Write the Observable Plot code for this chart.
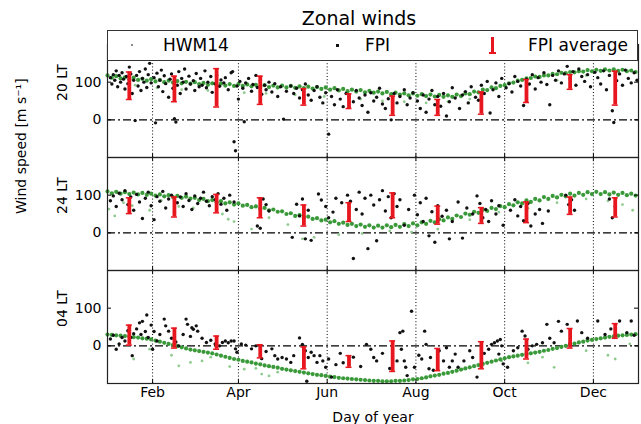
<!DOCTYPE html>
<html><head><meta charset="utf-8">
<script src="https://cdn.jsdelivr.net/npm/d3@7"></script>
<script src="https://cdn.jsdelivr.net/npm/@observablehq/plot@0.6"></script>
<style>
body{margin:0;background:#fff;font-family:"DejaVu Sans",sans-serif;color:#000;}
#wrap{position:relative;width:641px;height:424px;overflow:hidden;}
#wrap svg{position:absolute;left:0;top:0;}
.abs{position:absolute;}
#title{left:0;width:718px;top:8px;text-align:center;font-size:19px;line-height:20px;}
#legend{left:107px;top:30px;width:531px;height:31px;box-sizing:border-box;border:1px solid #333;background:#fff;}
.lt{font-size:17px;line-height:18px;top:36px;}
</style></head><body>
<div id="wrap">
</div>
<script>
// ---- categories / ticks ----
const panels = ["20 LT", "24 LT", "04 LT"];
const monthLabels = ["Feb", "Apr", "Jun", "Aug", "Oct", "Dec"];
const monthDays = [32, 91, 152, 213, 274, 335];

// ---- HWM14 (sampled every 3 days from day 1) ----
const hwmDays = d3.range(1, 366, 3);
const hwm20 = [118,112,116,110,113,108,112,106,109,104,
108,102,106,100,104,99,103,97,101,96,
100,95,98,93,97,92,96,91,95,90,
95,90,94,89,93,88,92,87,91,86,
91,86,90,85,89,84,88,83,87,82,
86,80,84,78,82,76,80,75,79,73,
77,72,75,70,74,68,72,67,70,65,
70,64,68,63,67,62,66,61,65,61,
67,63,70,68,75,73,80,79,86,84,
90,92,97,99,104,106,110,111,115,114,
118,118,122,121,125,124,127,126,129,128,
132,129,133,130,134,131,134,130,133,129,
131,127];
const hwm24 = [110,105,109,104,108,103,107,102,106,101,
104,99,102,97,100,95,98,93,96,91,
93,87,90,84,87,81,84,78,81,75,
78,72,74,68,70,64,66,60,62,56,
57,50,52,45,47,41,43,37,39,33,
35,28,31,24,27,21,24,18,22,16,
20,14,19,14,20,15,21,16,23,18,
25,20,28,24,32,28,36,33,41,37,
46,42,51,48,56,53,61,58,66,63,
71,68,76,73,81,78,86,82,90,86,
95,90,98,94,101,97,104,99,106,101,
108,103,109,103,108,102,107,101,106,100,
104,99];
const hwm04 = [30,29,28,27,26,25,23,22,20,19,
17,14,11,8,5,2,-1,-4,-7,-10,
-12,-14,-16,-18,-20,-23,-26,-29,-32,-35,
-37,-40,-42,-44,-47,-49,-52,-54,-56,-58,
-61,-63,-65,-67,-69,-71,-73,-75,-77,-78,
-80,-82,-83,-85,-86,-87,-88,-89,-90,-91,
-92,-93,-93,-94,-94,-94,-93,-93,-92,-91,
-89,-88,-86,-84,-81,-79,-77,-74,-72,-69,
-66,-63,-60,-57,-54,-51,-48,-45,-42,-39,
-36,-33,-30,-28,-26,-24,-22,-20,-18,-16,
-13,-11,-8,-6,-3,0,3,6,9,11,
14,16,18,20,22,24,25,27,28,29,
30,31];
// scattered (lighter) HWM14 points [day, value]
const hwmExtra20 = [[20,92],[35,85],[52,80],[70,78],[95,72],[110,70],[130,66],[150,62],[175,55],[190,50],[205,48],[220,45],[235,48],[250,55],[290,92],[310,105],[330,118],[350,112]];
const hwmExtra24 = [[2,63],[6,45],[12,80],[18,72],[30,60],[38,86],[50,70],[60,66],[80,50],[84,36],[88,30],[100,10],[112,40],[125,22],[135,-16],[143,-12],[160,-5],[176,-2],[195,5],[210,2],[228,10],[250,35],[270,55],[290,65],[310,80],[330,90],[345,85],[355,75],[362,60]];
const hwmExtra04 = [[19,-35],[30,-9],[45,-25],[50,-53],[58,-44],[66,-40],[72,-30],[85,-55],[95,-62],[103,-60],[107,-75],[112,-80],[118,-70],[245,-62],[258,-48],[272,-40],[290,-45],[300,-30],[308,-57],[330,-13],[345,-25],[350,-35],[360,5]];

// ---- FPI individual nights [day, value] ----
const fpi20 = [[3,112],[4,95],[5,120],[6,105],[7,130],[8,88],[9,118],[10,100],[11,125],[12,108],[13,82],[14,115],[15,96],[16,140],[17,122],[18,70],[19,105],[20,-2],[21,118],[22,90],[23,128],[24,78],[25,110],[26,100],[27,135],[28,86],[29,120],[30,150],[31,98],[33,112],[34,-8],[35,124],[36,88],[37,105],[38,132],[39,75],[40,117],[41,96],[43,60],[44,108],[45,122],[46,84],[47,3],[48,-6],[49,92],[50,128],[51,70],[52,110],[53,100],[54,135],[55,82],
[57,116],[58,95],[60,104],[61,78],[62,123],[64,88],[65,110],[66,92],[68,130],[69,85],[70,100],[72,115],[73,73],[75,96],[76,118],[78,89],[79,106],[81,98],[82,112],[84,80],[86,125],[87,128],[88,-58],[89,-82],[90,90],[91,55],[92,102],[94,84],[95,-5],[96,98],[98,110],[100,76],[101,94],[103,118],[104,86],[106,104],[107,68],[109,92],[110,80],[112,100],[114,74],[116,96],[118,62],[120,88],[122,2],[124,76],[127,90],[129,70],[131,84],[133,58],[135,80],[137,95],[139,66],[141,52],[143,78],[145,88],[147,60],[149,45],[151,72],[153,-38],[155,62],[157,40],[159,80],[161,55],[163,35],[165,70],[167,60],
[170,48],[172,78],[174,58],[176,38],[178,66],[180,20],[182,72],[184,50],[186,60],[188,84],[190,42],[192,30],[194,56],[196,0],[198,70],[200,45],[202,62],[205,80],[207,40],[209,58],[211,72],[214,50],[216,30],[218,66],[220,20],[222,55],[224,78],[226,40],[228,62],[230,36],[232,70],[234,10],[236,48],[238,85],[240,58],[243,30],[245,66],[247,75],[249,45],[251,88],[254,60],[256,52],[258,92],[260,70],[262,102],[264,18],[266,80],[268,98],[270,62],[272,110],[275,85],[277,96],[279,74],[281,115],[283,102],[285,90],[287,38],[289,108],[291,95],[293,120],[295,82],[297,112],[299,100],[301,125],[303,94],[305,40],[307,118],[309,105],[311,130],[313,98],[315,122],[317,142],[319,110],[321,128],[323,92],[325,135],[327,115],[329,102],[331,120],[333,88],[336,126],[338,112],[340,95],[342,130],[344,80],[346,118],[348,24],[349,-7],[351,104],[353,122],[355,92],[357,132],[359,110],[361,98],[363,125],[365,105]];
const fpi24 = [[3,85],[5,98],[7,70],[9,105],[11,88],[13,112],[15,75],[17,95],[19,60],[21,102],[23,82],[25,38],[27,92],[29,108],[31,72],[33,35],[35,96],[37,84],[39,110],[41,66],[43,90],[45,100],[47,55],[49,80],[51,95],[53,70],[55,104],[57,86],[59,62],[61,98],[63,78],[65,92],[67,108],[69,84],[71,72],[73,96],[75,88],[77,104],[79,76],[81,92],[83,60],[85,100],[88,82],[104,18],[106,12],[108,90],[110,75],[112,58],[128,-12],[131,76],[133,45],[135,90],[137,-16],[139,60],[141,-20],[146,103],[148,87],[151,70],[153,40],[156,55],[158,92],[162,80],[166,100],[168,84],[170,-68],[172,62],[174,108],[176,50],[178,92],[180,-42],[182,100],[184,74],[186,-21],[188,88],[190,112],[192,58],[194,96],[196,40],[198,104],[200,70],[202,88],[205,20],[208,62],[212,100],[214,48],[216,80],[218,30],[220,92],[222,-8],[224,56],[226,-25],[228,72],[231,44],[234,60],[236,-16],[238,30],[242,82],[245,-14],[248,66],[252,50],[255,98],[257,78],[259,40],[261,62],[263,30],[265,85],[268,50],[270,72],[273,20],[278,60],[281,88],[283,45],[285,70],[287,32],[290,78],[292,18],[295,50],[298,62],[300,25],[304,58],[316,100],[318,75],[320,88],[322,60],[346,90],[348,40],[350,70]];
const fpi04 = [[3,18],[5,28],[7,-9],[9,5],[11,22],[13,13],[15,40],[17,22],[18,-26],[19,32],[21,45],[23,61],[24,30],[25,65],[27,38],[28,82],[29,22],[31,55],[32,-9],[33,38],[35,13],[37,30],[40,71],[41,53],[43,39],[45,20],[48,10],[50,0],[53,30],[55,71],[56,57],[58,25],[59,48],[60,44],[62,53],[63,39],[66,20],[69,9],[72,15],[75,5],[78,0],[80,9],[82,13],[84,8],[86,13],[88,13],[89,-8],[90,-17],[93,5],[96,2],[100,-8],[103,0],[107,-34],[110,-15],[114,-8],[116,-26],[118,-35],[121,-31],[124,-35],[127,-44],[129,-26],[133,21],[135,4],[137,-13],[138,-94],[139,-31],[141,-17],[143,-26],[145,-44],[147,-26],[149,-40],[151,-57],[153,-35],[155,-83],[158,-50],[161,-20],[163,-45],[170,-30],[175,-55],[179,4],[182,-9],[184,-31],[186,-40],[190,-20],[195,-60],[200,-40],[202,35],[203,-9],[204,39],[205,-40],[206,-57],[207,-79],[210,92],[212,-57],[215,-25],[217,-35],[219,39],[220,4],[222,-61],[223,-31],[225,-65],[229,-13],[232,-40],[234,-5],[236,-57],[238,-40],[240,-22],[242,-57],[246,-40],[250,-13],[252,-31],[255,-83],[260,-20],[263,-9],[265,4],[267,8],[269,13],[270,-22],[271,17],[272,0],[273,-48],[276,-57],[280,-13],[283,-5],[286,39],[288,26],[290,-9],[293,0],[296,4],[300,8],[303,57],[305,20],[308,8],[311,65],[313,39],[317,57],[319,8],[324,66],[327,35],[331,20],[338,66],[343,30],[347,45],[353,66],[358,35],[361,66],[363,28]];

// ---- FPI monthly average (range bars) ----
const avgDays = [16, 47, 76, 106, 136, 167, 197, 228, 258, 289, 319, 350];
const avgHi20 = [127, 116, 136, 116, 83, 69, 63, 54, 74, 107, 120, 129];
const avgLo20 = [54, 48, 34, 41, 39, 30, 12, 12, 15, 46, 81, 39];
const avgHi24 = [93, 95, 102, 93, 74, 80, 106, 71, 67, 82, 95, 93];
const avgLo24 = [51, 42, 53, 40, 18, 30, 40, 23, 25, 27, 49, 42];
const avgHi04 = [55, 47, 26, 3, -3, -26, 13, -7, 11, 18, 46, 59];
const avgLo04 = [2, -6, -9, -32, -61, -57, -68, -66, -61, -35, -6, 20];

// ---- build tables ----
const hwmRows = [], hwmExtraRows = [], fpiRows = [], avgRows = [];
[[hwm20, hwmExtra20, fpi20, avgHi20, avgLo20],
 [hwm24, hwmExtra24, fpi24, avgHi24, avgLo24],
 [hwm04, hwmExtra04, fpi04, avgHi04, avgLo04]].forEach(([h, hx, f, hi, lo], k) => {
  const panel = panels[k];
  h.forEach((v, i) => hwmRows.push({panel, day: hwmDays[i], value: v}));
  hx.forEach(([d, v]) => hwmExtraRows.push({panel, day: d, value: v}));
  f.forEach(([d, v]) => fpiRows.push({panel, day: d, value: v}));
  avgDays.forEach((d, i) => avgRows.push({panel, day: d, hi: hi[i], lo: lo[i]}));
});

const W = 641, H = 424, mL = 107, mR = 3, mT = 43, mB = 41;
const fh = (H - mT - mB) / 3, fw = W - mL - mR;
const red = "#e8161e";

const chart = Plot.plot({
  width: W, height: H,
  marginLeft: mL, marginRight: mR, marginTop: mT, marginBottom: mB,
  style: {fontFamily: "DejaVu Sans", fontSize: "14px", color: "#000", background: "transparent"},
  x: {domain: [1, 366]},
  y: {domain: [-100, 200]},
  fy: {domain: panels, padding: 0, axis: null},
  marks: [
    Plot.ruleX(monthDays, {stroke: "#000", strokeDasharray: "1,2.2", strokeWidth: 1}),
    Plot.ruleY([0], {stroke: "#000", strokeDasharray: "8,3,2,3", strokeWidth: 1.2}),
    Plot.dot(hwmExtraRows, {x: "day", y: "value", fy: "panel", r: 1.4, fill: "#8fca8f", stroke: null}),
    Plot.dot(hwmRows, {x: "day", y: "value", fy: "panel", r: 2.1, fill: "#3a9a3a", stroke: null}),
    Plot.dot(fpiRows, {x: "day", y: "value", fy: "panel", r: 1.7, fill: "#111", stroke: null}),
    Plot.ruleX(avgRows, {x: "day", y1: "lo", y2: "hi", fy: "panel", stroke: red, strokeWidth: 3.8}),
    Plot.ruleY(avgRows, {y: "hi", x1: "day", x2: "day", fy: "panel", insetLeft: -3, insetRight: -3, stroke: red, strokeWidth: 1.5}),
    Plot.ruleY(avgRows, {y: "lo", x1: "day", x2: "day", fy: "panel", insetLeft: -3, insetRight: -3, stroke: red, strokeWidth: 1.5}),
    Plot.ruleX(monthDays, {insetTop: fh - 4, stroke: "#000"}),
    Plot.ruleX(monthDays, {insetBottom: fh - 4, stroke: "#000"}),
    Plot.ruleY([0, 100], {insetRight: fw - 4, stroke: "#000"}),
    Plot.ruleY([0, 100], {insetLeft: fw - 4, stroke: "#000"}),
    Plot.frame({stroke: "#222", strokeWidth: 1.2}),
    Plot.axisY({ticks: [0, 100], tickSize: 0, tickPadding: 6, label: null, fontSize: 14}),
    Plot.axisX({ticks: monthDays, tickFormat: d => monthLabels[monthDays.indexOf(d)], tickSize: 0, tickPadding: 4,
      label: "Day of year", labelAnchor: "center", labelArrow: "none", labelOffset: 38, fontSize: 14}),
    Plot.text(panels, {fy: d => d, text: d => d, frameAnchor: "left", dx: -45, rotate: -90, fontSize: 14}),
    Plot.text(["Wind speed [m s⁻¹]"], {fy: () => "24 LT", text: d => d, frameAnchor: "left", dx: -86, rotate: -90, fontSize: 14})
  ]
});

const wrap = document.getElementById("wrap");
wrap.appendChild(chart);

function add(cls, id, html, css) {
  const el = document.createElement("div");
  el.className = cls; if (id) el.id = id;
  el.innerHTML = html || "";
  if (css) Object.assign(el.style, css);
  wrap.appendChild(el);
  return el;
}
add("abs", "title", "Zonal winds");
add("abs", "legend", "");
// legend markers
add("abs", null, "", {left: "131px", top: "44px", width: "2px", height: "2px", background: "#8a8a8a"});
add("abs", "", "", {left: "336px", top: "44px", width: "3px", height: "3px", background: "#111"});
add("abs", "", "", {left: "491px", top: "37px", width: "3px", height: "16px", background: red});
add("abs", "", "", {left: "489px", top: "52px", width: "7px", height: "2px", background: red});
// legend labels
add("abs lt", "", "HWM14", {left: "163px"});
add("abs lt", "", "FPI", {left: "365px"});
add("abs lt", "", "FPI average", {left: "528px"});
</script>
</body></html>
